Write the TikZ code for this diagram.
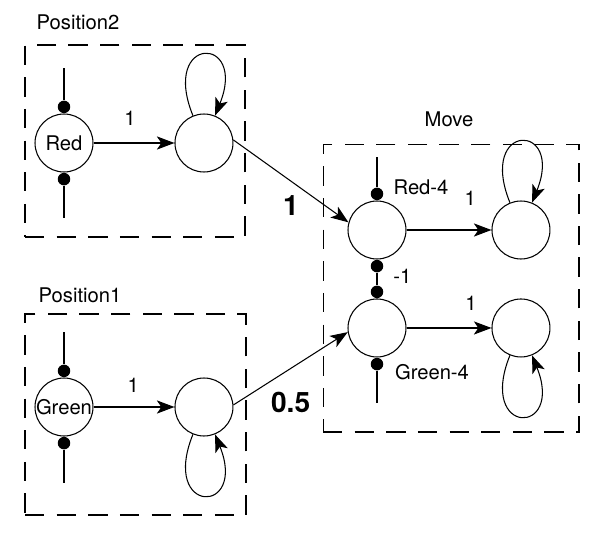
\documentclass[tikz,border=0pt]{standalone}
\usepackage{fontspec}
\setmainfont{TeX Gyre Heros}
\usetikzlibrary{arrows.meta,positioning,shapes}

\begin{document}
\begin{tikzpicture}[x=0.02cm, y=-0.02cm, font=\fontsize{11.5}{14}\selectfont]
\tikzstyle{main}=[circle, draw=black, line width=0.6pt, minimum size=1.16cm, inner sep=0pt, node distance=2.8cm]
\tikzstyle{dot}=[circle, fill=black, inner sep=0pt, minimum size=0.25cm]
\tikzstyle{connect}=[-{Stealth[length=10pt, width=7.5pt, inset=2.5pt]}, line width=0.6pt]
\tikzstyle{wire}=[line width=0.6pt]
\tikzstyle{box}=[rectangle, draw=black, line width=0.6pt, dash pattern=on 11pt off 7pt, inner sep=0pt]
\tikzstyle{weight}=[font=\fontsize{16}{18}\selectfont\bfseries]
\tikzstyle{loopup}=[connect, loop above, out=112, in=68, looseness=1, min distance=1.75cm]
\tikzstyle{loopdown}=[connect, loop below, out=248, in=292, looseness=1, min distance=1.75cm]

\useasboundingbox (0,0) rectangle (602,541);

  % groups
  \node[box, minimum width=4.4cm, minimum height=3.84cm]  (pos2box) at (135,141)     {};
  \node[box, minimum width=4.42cm, minimum height=4.02cm] (pos1box) at (135.5,414.5) {};
  \node[box, minimum width=5.12cm, minimum height=5.76cm] (movebox) at (451,288)     {};
  \node (pos2lbl) at (78,22)   {Position2};
  \node (pos1lbl) at (80,295)  {Position1};
  \node (movelbl) at (449,119) {Move};

  % Position2
  \node[main] (red)    at (64,143)       {Red};
  \node[main] (redout) [right of =red]   {};
  \node[dot]  (redup)   [above=0pt of red] {};
  \node[dot]  (reddown) [below=0pt of red] {};
  \coordinate (redtop) at ([shift={(0,-75)}]red.center);
  \coordinate (redbot) at ([shift={(0,75)}]red.center);

  % Position1
  \node[main, label=center:Green] (green) at (64,407) {};
  \node[main] (greenout) [right of =green]  {};
  \node[dot]  (greenup)   [above=0pt of green] {};
  \node[dot]  (greendown) [below=0pt of green] {};
  \coordinate (greentop) at ([shift={(0,-75)}]green.center);
  \coordinate (greenbot) at ([shift={(0,76)}]green.center);

  % Move
  \node[main] (redfour)      at (377,230)                                    {};
  \node[main] (redfourout)   [right of =redfour, node distance=2.88cm]      {};
  \node[main] (greenfour)    [below of =redfour, node distance=1.96cm]      {};
  \node[main] (greenfourout) [right of =greenfour, node distance=2.88cm]    {};
  \node[dot]  (redfourup)     [above=0pt of redfour]   {};
  \node[dot]  (redfourdown)   [below=0pt of redfour]   {};
  \node[dot]  (greenfourup)   [above=0pt of greenfour] {};
  \node[dot]  (greenfourdown) [below=0pt of greenfour] {};
  \coordinate (redfourtop)   at ([shift={(0,-73)}]redfour.center);
  \coordinate (greenfourbot) at ([shift={(0,75)}]greenfour.center);
  \node (redfourlbl)   at ([shift={(44,-43)}]redfour)  {Red-4};
  \node (greenfourlbl) at ([shift={(55,44)}]greenfour) {Green-4};

  % wires
  \draw[wire] (redtop) -- (redup);
  \draw[wire] (reddown) -- (redbot);
  \draw[wire] (greentop) -- (greenup);
  \draw[wire] (greendown) -- (greenbot);
  \draw[wire] (redfourtop) -- (redfourup);
  \draw[wire] (greenfourdown) -- (greenfourbot);
  \draw[wire] (redfourdown) -- node [right=0.2cm, yshift=0.06cm] {-1} (greenfourup);

  % arrows
  \path (red) edge [connect] node [pos=0.45, above=0.22cm] {1} (redout);
  \path (green) edge [connect] node [pos=0.49, above=0.16cm] {1} (greenout);
  \path (redfour) edge [connect] node [pos=0.75, above=0.36cm] {1} (redfourout);
  \path (greenfour) edge [connect] node [pos=0.76, above=0.22cm] {1} (greenfourout);

  \path (redout.6) edge [connect] node [pos=0.5, below=0.16cm, weight] {1} (redfour.165);
  \path (greenout.4) edge [connect] node [pos=0.5, below=0.34cm, weight] {0.5} (greenfour.188);

  % self loops
  \path (redout) edge [loopup] (redout);
  \path (redfourout) edge [loopup] (redfourout);
  \path (greenout) edge [loopdown] (greenout);
  \path (greenfourout) edge [loopdown] (greenfourout);

\end{tikzpicture}
\end{document}
